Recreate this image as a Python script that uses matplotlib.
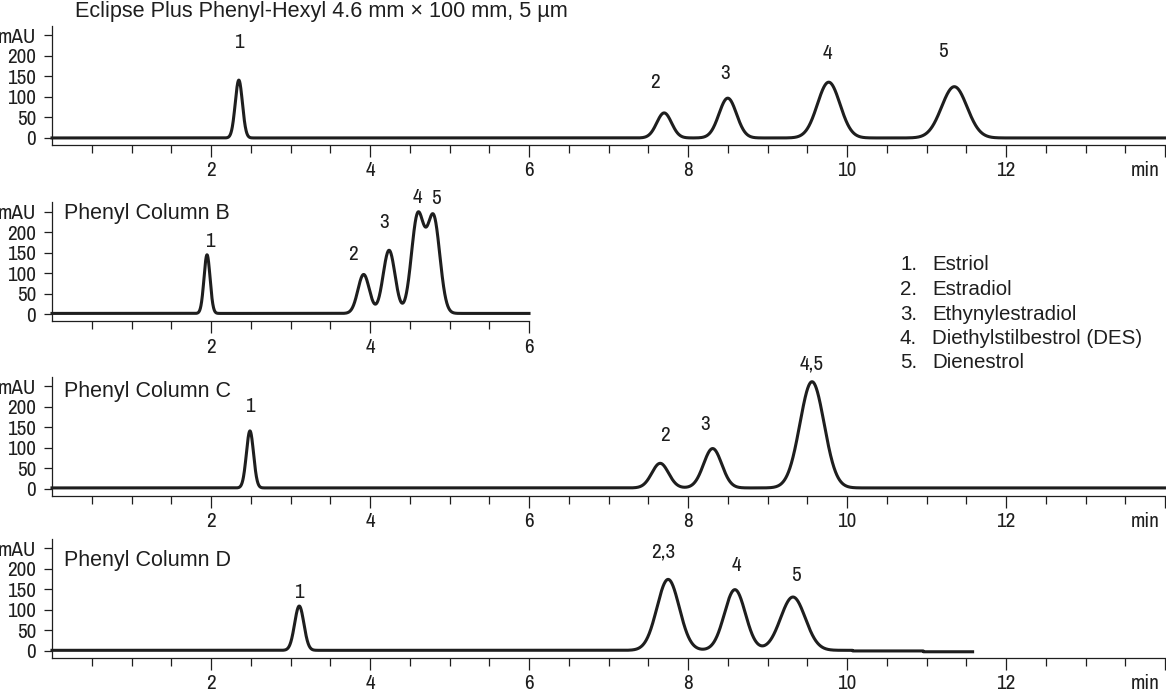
import numpy as np
import matplotlib
matplotlib.use("Agg")
import matplotlib.pyplot as plt

W, H = 1166, 692
INK = "#1e1e1e"

NARROW = ["Archivo Narrow", "Liberation Sans Narrow", "DejaVu Sans"]
TEXT = ["Liberation Sans", "DejaVu Sans"]
NUM_SIZE = 15.2

plt.rcParams["font.family"] = NARROW

# peak tables: retention time (min), height (mAU), width sigma (min)
a_rt = [2.35, 7.70, 8.50, 9.77, 11.35]
a_height = [141, 61, 97, 136, 125]
a_sigma = [0.045, 0.093, 0.11, 0.142, 0.16]
a_labels = ["1", "2", "3", "4", "5"]

b_rt = [1.95, 3.92, 4.24, 4.60, 4.80]
b_height = [143, 95, 154, 237, 232]
b_sigma = [0.038, 0.072, 0.075, 0.079, 0.079]
b_labels = ["1", "2", "3", "4", "5"]

c_rt = [2.49, 7.65, 8.31, 9.56]
c_height = [139, 60, 96, 259]
c_sigma = [0.045, 0.105, 0.114, 0.152]
c_labels = ["1", "2", "3", "4,5"]

d_rt = [3.11, 7.75, 8.59, 9.32]
d_height = [108, 173, 148, 130]
d_sigma = [0.058, 0.14, 0.132, 0.155]
d_labels = ["1", "2,3", "4", "5"]
d_step_t = [10.07, 10.96]
d_step_dy = [-1.5, -2.0]

compounds = ["Estriol", "Estradiol", "Ethynylestradiol",
             "Diethylstilbestrol (DES)", "Dienestrol"]

panel_titles = ["Phenyl Column B", "Phenyl Column C", "Phenyl Column D"]
main_title = "Eclipse Plus Phenyl-Hexyl 4.6 mm \u00d7 100 mm, 5 \u00b5m"

PX_PER_MIN = 79.5
PX_PER_MAU = 0.41
YLO, YHI = -16, 274


def make_axes(fig, bottom_px, t_max):
    height_px = (YHI - YLO) * PX_PER_MAU
    width_px = t_max * PX_PER_MIN
    ax = fig.add_axes([52 / W, 1 - bottom_px / H, width_px / W, height_px / H])
    ax.set_xlim(0, t_max)
    ax.set_ylim(YLO, YHI)
    for s in ["top", "right"]:
        ax.spines[s].set_visible(False)
    for s in ["left", "bottom"]:
        ax.spines[s].set_linewidth(0.9)
        ax.spines[s].set_color(INK)
    ax.patch.set_alpha(0)

    majors = list(range(2, int(t_max) + 1, 2))
    ax.set_xticks(majors)
    ax.set_xticks([m for m in np.arange(0.5, t_max + 0.01, 0.5) if m % 2 != 0], minor=True)
    if t_max > 6:
        ax.set_xticklabels([str(m) if m < 14 else "" for m in majors])
        ax.annotate("min", xy=(13.75, 0), xycoords=("data", "axes fraction"),
                    xytext=(0, -12.2), textcoords="offset points",
                    ha="center", va="top", fontsize=NUM_SIZE, color=INK)
    ax.tick_params(axis="x", which="major", length=8.6, width=0.9, pad=3.6,
                   labelsize=NUM_SIZE, colors=INK)
    ax.tick_params(axis="x", which="minor", length=5.8, width=0.9, colors=INK)

    ax.set_yticks([0, 50, 100, 150, 200, 250])
    ax.set_yticklabels(["0", "50", "100", "150", "200", "mAU"])
    ax.tick_params(axis="y", length=6, width=0.9, pad=5.5, labelsize=NUM_SIZE, colors=INK)
    return ax


def draw_trace(ax, t_end, rt, height, sigma, base, labels, offsets,
               step_t=(), step_dy=()):
    t = np.linspace(0, t_end, 5000)
    y = np.full_like(t, float(base))
    for r, h, s in zip(rt, height, sigma):
        y += h * np.exp(-0.5 * ((t - r) / s) ** 2)
    for st, dy in zip(step_t, step_dy):
        y += np.where(t >= st, dy, 0.0)
    ax.plot(t, y, color=INK, lw=2.2, solid_joinstyle="round", clip_on=False)

    for r, lab, (dx, dy) in zip(rt, labels, offsets):
        top = np.interp(r, t, y)
        ax.annotate(lab, xy=(r, top), xytext=(dx, dy), textcoords="offset pixels",
                    ha="center", va="center", fontsize=NUM_SIZE, color=INK,
                    annotation_clip=False)


fig = plt.figure(figsize=(W / 100, H / 100), dpi=100)

ax_a = make_axes(fig, 144.5, 14)
draw_trace(ax_a, 14, a_rt, a_height, a_sigma, 0, a_labels,
           [(0, 38), (-9, 30), (-3, 25), (-1, 29), (-11, 35)])

ax_b = make_axes(fig, 321, 6)
draw_trace(ax_b, 6, b_rt, b_height, b_sigma, 2.5, b_labels,
           [(3, 13), (-11, 20), (-5, 28), (0, 15), (2, 16)])

ax_c = make_axes(fig, 495.5, 14)
draw_trace(ax_c, 14, c_rt, c_height, c_sigma, 2.5, c_labels,
           [(0, 24), (5, 28), (-8, 24), (0, 18)])

ax_d = make_axes(fig, 657.5, 14)
draw_trace(ax_d, 11.58, d_rt, d_height, d_sigma, 1.5, d_labels,
           [(0, 14), (-5, 27), (1, 24), (3, 22)], d_step_t, d_step_dy)

fig.text(75 / W, 1 - 16.7 / H, main_title, family=TEXT, fontsize=15.6,
         va="baseline", ha="left", color=INK)
for title, base_px in zip(panel_titles, [218.5, 397, 566]):
    fig.text(64.5 / W, 1 - base_px / H, title, family=TEXT, fontsize=15.5,
             va="baseline", ha="left", color=INK)

for i, name in enumerate(compounds):
    yc = 1 - (265 + i * 24.5) / H
    fig.text(900 / W, yc, f"{i + 1}.", family=TEXT, fontsize=14.8,
             va="center", ha="left", color=INK)
    fig.text(932 / W, yc, name, family=TEXT, fontsize=14.8,
             va="center", ha="left", color=INK)

fig.savefig("out.png", dpi=100)
